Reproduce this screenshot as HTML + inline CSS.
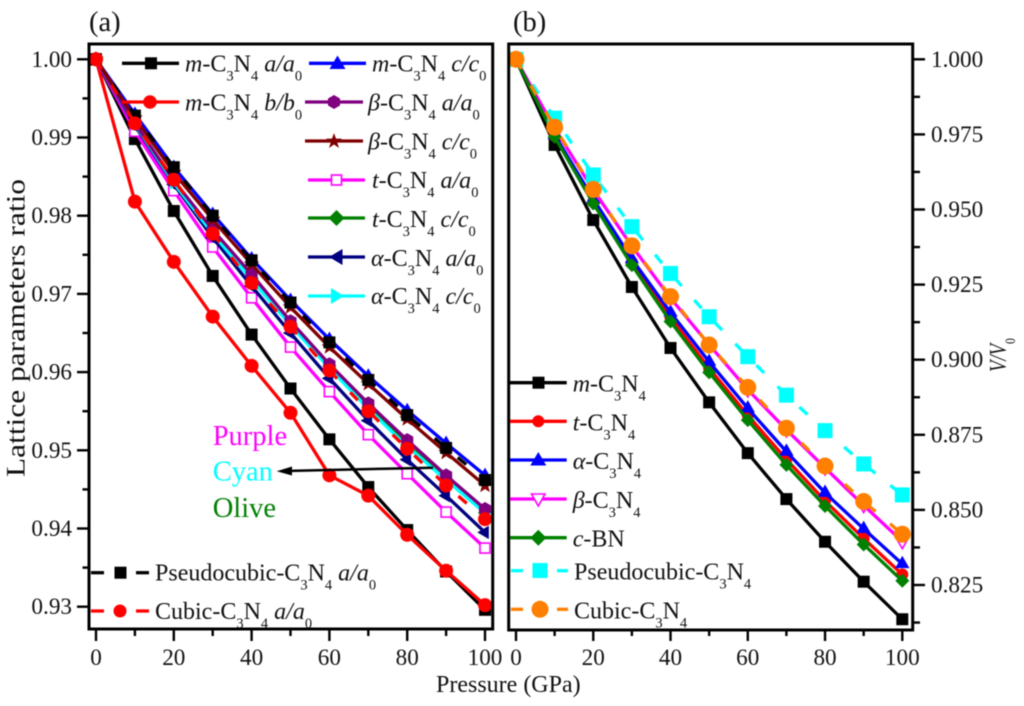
<!DOCTYPE html>
<html lang="en">
<head>
<meta charset="utf-8">
<title>Lattice parameter and volume ratios versus pressure</title>
<style>
html,body{margin:0;padding:0;background:#fff;}
body{width:1024px;height:706px;overflow:hidden;}
svg{display:block;filter:blur(0.5px);font-family:"Liberation Serif",serif;fill:#111;}
.lg{font-size:24px;}
.s{font-size:14.5px;baseline-shift:-9px;}
.i{font-style:italic;}
.t{font-size:23.2px;}
</style>
</head>
<body>
<svg id="chart" xmlns="http://www.w3.org/2000/svg" width="1024" height="706" viewBox="0 0 1024 706">
  <defs>
    <clipPath id="clipA"><rect x="89" y="44" width="403.7" height="585"/></clipPath>
    <clipPath id="clipB"><rect x="508.7" y="44" width="404" height="586"/></clipPath>
  </defs>
  <g id="marksA" clip-path="url(#clipA)"></g>
  <g id="marksB" clip-path="url(#clipB)"></g>
  <g id="axesA"></g>
  <g id="axesB"></g>

  <text x="89" y="31" font-size="28.5">(a)</text>
  <text x="513" y="31" font-size="28.5">(b)</text>
  <text x="436" y="692" font-size="24">Pressure (GPa)</text>
  <text transform="translate(24.5,477) rotate(-90)" font-size="26" textLength="298" lengthAdjust="spacingAndGlyphs">Lattice parameters ratio</text>
  <text transform="translate(1006,372) rotate(-90) scale(.78,1)" font-size="24" class="i">V/V<tspan class="s" style="font-style:normal">0</tspan></text>

  <g class="lg">
    <g>
      <line x1="122" x2="179" y1="63.3" y2="63.3" stroke="#000" stroke-width="3.3"/>
      <rect x="145" y="57.3" width="12" height="12" fill="#000"/>
      <text x="185" y="71.7"><tspan class="i">m</tspan>-C<tspan class="s">3</tspan>N<tspan class="s">4</tspan> <tspan class="i">a/a</tspan><tspan class="s">0</tspan></text>
    </g>
    <g>
      <line x1="122" x2="179" y1="102" y2="102" stroke="#f00" stroke-width="3.3"/>
      <circle cx="150" cy="102" r="6.8" fill="#f00"/>
      <text x="185" y="110.7"><tspan class="i">m</tspan>-C<tspan class="s">3</tspan>N<tspan class="s">4</tspan> <tspan class="i">b/b</tspan><tspan class="s">0</tspan></text>
    </g>
    <g>
      <line x1="309" x2="366" y1="63.3" y2="63.3" stroke="#00f" stroke-width="3.3"/>
      <polygon points="337.5,55.5 345.5,69 329.5,69" fill="#00f"/>
      <text x="372" y="71.7"><tspan class="i">m</tspan>-C<tspan class="s">3</tspan>N<tspan class="s">4</tspan> <tspan class="i">c/c</tspan><tspan class="s">0</tspan></text>
    </g>
    <g>
      <line x1="305" x2="363" y1="102" y2="102" stroke="#800080" stroke-width="3.3"/>
      <polygon points="334,95 340,98.5 340,105.5 334,109 328,105.5 328,98.5" fill="#800080"/>
      <text x="368" y="110.7"><tspan class="i">β</tspan>-C<tspan class="s">3</tspan>N<tspan class="s">4</tspan> <tspan class="i">a/a</tspan><tspan class="s">0</tspan></text>
    </g>
    <g>
      <line x1="305" x2="363" y1="141" y2="141" stroke="#800000" stroke-width="3.3"/>
      <polygon points="334,133 336,138.6 342,138.6 337.2,142.2 339,148 334,144.5 329,148 330.8,142.2 326,138.6 332,138.6" fill="#800000"/>
      <text x="368" y="149.7"><tspan class="i">β</tspan>-C<tspan class="s">3</tspan>N<tspan class="s">4</tspan> <tspan class="i">c/c</tspan><tspan class="s">0</tspan></text>
    </g>
    <g>
      <line x1="308" x2="365" y1="180" y2="180" stroke="#f0f" stroke-width="3.3"/>
      <rect x="331.5" y="175" width="10" height="10" fill="#fff" stroke="#f0f" stroke-width="1.6"/>
      <text x="372" y="188"><tspan class="i">t</tspan>-C<tspan class="s">3</tspan>N<tspan class="s">4</tspan> <tspan class="i">a/a</tspan><tspan class="s">0</tspan></text>
    </g>
    <g>
      <line x1="308" x2="365" y1="218" y2="218" stroke="#008000" stroke-width="3.3"/>
      <polygon points="336.5,210 344.5,218 336.5,226 328.5,218" fill="#008000"/>
      <text x="372" y="227"><tspan class="i">t</tspan>-C<tspan class="s">3</tspan>N<tspan class="s">4</tspan> <tspan class="i">c/c</tspan><tspan class="s">0</tspan></text>
    </g>
    <g>
      <line x1="308" x2="365" y1="257" y2="257" stroke="#000080" stroke-width="3.3"/>
      <polygon points="329,257 342.5,249 342.5,265" fill="#000080"/>
      <text x="371" y="266"><tspan class="i">α</tspan>-C<tspan class="s">3</tspan>N<tspan class="s">4</tspan> <tspan class="i">a/a</tspan><tspan class="s">0</tspan></text>
    </g>
    <g>
      <line x1="308" x2="365" y1="296" y2="296" stroke="#0ff" stroke-width="3.3"/>
      <polygon points="344,296 331,288 331,304" fill="#0ff"/>
      <text x="371" y="304"><tspan class="i">α</tspan>-C<tspan class="s">3</tspan>N<tspan class="s">4</tspan> <tspan class="i">c/c</tspan><tspan class="s">0</tspan></text>
    </g>
    <g>
      <line x1="91" x2="104" y1="572.7" y2="572.7" stroke="#000" stroke-width="3.3"/>
      <line x1="136" x2="149" y1="572.7" y2="572.7" stroke="#000" stroke-width="3.3"/>
      <rect x="114.5" y="566.7" width="12" height="12" fill="#000"/>
      <text x="155" y="580.7">Pseudocubic-C<tspan class="s">3</tspan>N<tspan class="s">4</tspan> <tspan class="i">a/a</tspan><tspan class="s">0</tspan></text>
    </g>
    <g>
      <line x1="91" x2="104" y1="611" y2="611" stroke="#f00" stroke-width="3.3"/>
      <line x1="136" x2="149" y1="611" y2="611" stroke="#f00" stroke-width="3.3"/>
      <circle cx="120" cy="611" r="6.5" fill="#f00"/>
      <text x="155" y="619">Cubic-C<tspan class="s">3</tspan>N<tspan class="s">4</tspan> <tspan class="i">a/a</tspan><tspan class="s">0</tspan></text>
    </g>
  </g>

  <g class="lg">
    <g>
      <line x1="510" x2="566.7" y1="382.7" y2="382.7" stroke="#000" stroke-width="3.3"/>
      <rect x="532.5" y="376.7" width="12" height="12" fill="#000"/>
      <text x="572.7" y="391.7"><tspan class="i">m</tspan>-C<tspan class="s">3</tspan>N<tspan class="s">4</tspan></text>
    </g>
    <g>
      <line x1="510" x2="566.7" y1="421.3" y2="421.3" stroke="#f00" stroke-width="3.3"/>
      <circle cx="538.3" cy="421.3" r="6" fill="#f00"/>
      <text x="572.7" y="430.3"><tspan class="i">t</tspan>-C<tspan class="s">3</tspan>N<tspan class="s">4</tspan></text>
    </g>
    <g>
      <line x1="510" x2="566.7" y1="460" y2="460" stroke="#00f" stroke-width="3.3"/>
      <polygon points="538.3,452 546.3,465.5 530.3,465.5" fill="#00f"/>
      <text x="572.7" y="469"><tspan class="i">α</tspan>-C<tspan class="s">3</tspan>N<tspan class="s">4</tspan></text>
    </g>
    <g>
      <line x1="510" x2="566.7" y1="499" y2="499" stroke="#f0f" stroke-width="3.3"/>
      <polygon points="531.5,494 545,494 538.3,506" fill="#fff" stroke="#f0f" stroke-width="1.6"/>
      <text x="572.7" y="508"><tspan class="i">β</tspan>-C<tspan class="s">3</tspan>N<tspan class="s">4</tspan></text>
    </g>
    <g>
      <line x1="510" x2="566.7" y1="537.7" y2="537.7" stroke="#008000" stroke-width="3.3"/>
      <polygon points="538.3,529.7 546.3,537.7 538.3,545.7 530.3,537.7" fill="#008000"/>
      <text x="572.7" y="546.7"><tspan class="i">c</tspan>-BN</text>
    </g>
    <g>
      <line x1="511" x2="523" y1="570.7" y2="570.7" stroke="#0ff" stroke-width="3.3"/>
      <line x1="557" x2="568" y1="570.7" y2="570.7" stroke="#0ff" stroke-width="3.3"/>
      <rect x="532.5" y="563" width="15" height="15" fill="#0ff"/>
      <text x="574" y="579.7">Pseudocubic-C<tspan class="s">3</tspan>N<tspan class="s">4</tspan></text>
    </g>
    <g>
      <line x1="511" x2="523" y1="609.3" y2="609.3" stroke="#ff8000" stroke-width="3.3"/>
      <line x1="557" x2="568" y1="609.3" y2="609.3" stroke="#ff8000" stroke-width="3.3"/>
      <circle cx="540" cy="609.3" r="8.5" fill="#ff8000"/>
      <text x="574" y="618.3">Cubic-C<tspan class="s">3</tspan>N<tspan class="s">4</tspan></text>
    </g>
  </g>

  <g font-size="28.5">
    <text x="212.7" y="445" style="fill:#f0f">Purple</text>
    <text x="212.7" y="480.7" style="fill:#0ff">Cyan</text>
    <text x="212.7" y="517" style="fill:#008000">Olive</text>
    <line x1="433" y1="467.7" x2="285" y2="471" stroke="#000" stroke-width="2.5"/>
    <polygon points="276.7,471.3 292,466.5 292,475.5" fill="#000"/>
  </g>
</svg>
<script>
const pressures = [0,10,20,30,40,50,60,70,80,90,100];
const xTickLabels = [0,20,40,60,80,100];
const xMinorTicks = [10,30,50,70,90];
const yTicksA = [1.00,0.99,0.98,0.97,0.96,0.95,0.94,0.93];
const yMinorA = [0.995,0.985,0.975,0.965,0.955,0.945,0.935];
const yTicksB = [1.000,0.975,0.950,0.925,0.900,0.875,0.850,0.825];
const yMinorB = [0.9875,0.9625,0.9375,0.9125,0.8875,0.8625,0.8375,0.8125];

const mA = [1,0.9898,0.9806,0.9723,0.9648,0.9579,0.9514,0.9453,0.9398,0.9345,0.9296];
const mB = [1,0.9818,0.9741,0.9671,0.9608,0.9548,0.9468,0.9442,0.9392,0.9346,0.9302];
const mC = [1,0.9930,0.9862,0.9802,0.9745,0.9692,0.9642,0.9595,0.9551,0.9509,0.9468];
const tA = [1,0.9908,0.9832,0.9760,0.9695,0.9632,0.9575,0.9520,0.9470,0.9421,0.9375];
const tC = [1,0.9918,0.9845,0.9780,0.9720,0.9662,0.9608,0.9555,0.9507,0.9463,0.9420];
const alphaA = [1,0.9915,0.9840,0.9772,0.9710,0.9650,0.9592,0.9538,0.9488,0.9442,0.9395];
const alphaC = [1,0.9917,0.9842,0.9777,0.9718,0.9660,0.9605,0.9553,0.9505,0.9462,0.9420];
const betaA = [1,0.9918,0.9845,0.9782,0.9725,0.9665,0.9610,0.9560,0.9513,0.9468,0.9425];
const betaC = [1,0.9925,0.9855,0.9795,0.9738,0.9683,0.9632,0.9585,0.9540,0.9497,0.9455];
const pseudoA = [1,0.9928,0.9862,0.9800,0.9743,0.9689,0.9638,0.9590,0.9545,0.9503,0.9462];
const cubicA = [1,0.9918,0.9846,0.9777,0.9714,0.9658,0.9602,0.9550,0.9502,0.9455,0.9412];

const volM = [1,0.9715,0.9465,0.9242,0.9039,0.8858,0.8689,0.8536,0.8394,0.8261,0.8136];
const volT = [1,0.9745,0.9525,0.9325,0.9140,0.8972,0.8815,0.8668,0.8530,0.8405,0.8285];
const volAlpha = [1,0.9748,0.9535,0.9335,0.9157,0.8993,0.8838,0.8694,0.8557,0.8437,0.8320];
const volBeta = [1,0.9770,0.9565,0.9378,0.9205,0.9050,0.8900,0.8767,0.8640,0.8515,0.8395];
const volCbn = [1,0.9742,0.9520,0.9315,0.9127,0.8958,0.8799,0.8650,0.8513,0.8385,0.8264];
const volPseudo = [1,0.9804,0.9615,0.9443,0.9287,0.9143,0.9010,0.8882,0.8764,0.8653,0.8550];
const volCubic = [1,0.9774,0.9567,0.9379,0.9210,0.9049,0.8908,0.8772,0.8646,0.8528,0.8419];

const NS = 'http://www.w3.org/2000/svg';

function xA(p){ return 96 + p * 3.89; }
function yA(v){ return 59.3 + (1 - v) * 7820; }
function xB(p){ return 516 + p * 3.863; }
function yB(v){ return 59.3 + (1 - v) * 3004; }

function node(tag, attrs){
  const el = document.createElementNS(NS, tag);
  for (const k in attrs) el.setAttribute(k, attrs[k]);
  return el;
}

function polyPoints(cx, cy, r, n, start){
  const pts = [];
  for (let i = 0; i < n; i++){
    const a = start + i * 2 * Math.PI / n;
    pts.push((cx + r * Math.cos(a)).toFixed(2) + ',' + (cy + r * Math.sin(a)).toFixed(2));
  }
  return pts.join(' ');
}

function starPoints(cx, cy, r){
  const pts = [];
  for (let i = 0; i < 10; i++){
    const a = -Math.PI / 2 + i * Math.PI / 5;
    const q = i % 2 ? r * 0.42 : r;
    pts.push((cx + q * Math.cos(a)).toFixed(2) + ',' + (cy + q * Math.sin(a)).toFixed(2));
  }
  return pts.join(' ');
}

function marker(kind, x, y, color, size){
  const h = size / 2;
  if (kind === 'square') return node('rect', {x:x-h, y:y-h, width:size, height:size, fill:color});
  if (kind === 'open-square') return node('rect', {x:x-h, y:y-h, width:size, height:size, fill:'#fff', stroke:color, 'stroke-width':1.6});
  if (kind === 'circle') return node('circle', {cx:x, cy:y, r:h, fill:color});
  if (kind === 'tri-up') return node('polygon', {points:polyPoints(x, y, h*1.1, 3, -Math.PI/2), fill:color});
  if (kind === 'tri-down-open') return node('polygon', {points:polyPoints(x, y, h*1.1, 3, Math.PI/2), fill:'#fff', stroke:color, 'stroke-width':1.6});
  if (kind === 'tri-left') return node('polygon', {points:polyPoints(x, y, h*1.1, 3, Math.PI), fill:color});
  if (kind === 'tri-right') return node('polygon', {points:polyPoints(x, y, h*1.1, 3, 0), fill:color});
  if (kind === 'hexagon') return node('polygon', {points:polyPoints(x, y, h, 6, -Math.PI/2), fill:color});
  if (kind === 'diamond') return node('polygon', {points:polyPoints(x, y, h, 4, -Math.PI/2), fill:color});
  return node('polygon', {points:starPoints(x, y, h*1.1), fill:color});
}

function drawSeries(parent, name, values, color, kind, size, dashed, xf, yf){
  const g = node('g', {});
  
  
  const line = node('polyline', {
    points: values.map(function(v, i){ return xf(pressures[i]).toFixed(2) + ',' + yf(v).toFixed(2); }).join(' '),
    fill: 'none', stroke: color, 'stroke-width': 3.3, 'stroke-linejoin': 'round'
  });
  if (dashed) line.setAttribute('stroke-dasharray', '11 19');
  
  
  g.appendChild(line);
  values.forEach(function(v, i){
    const m = marker(kind, xf(pressures[i]), yf(v), color, size);
    
    
    g.appendChild(m);
  });
  parent.appendChild(g);
}

const marksA = document.getElementById('marksA');
drawSeries(marksA, 'm-a', mA, '#000', 'square', 12, false, xA, yA);
drawSeries(marksA, 'm-b', mB, '#f00', 'circle', 14, false, xA, yA);
drawSeries(marksA, 'm-c', mC, '#00f', 'tri-up', 14, false, xA, yA);
drawSeries(marksA, 't-a', tA, '#f0f', 'open-square', 10, false, xA, yA);
drawSeries(marksA, 't-c', tC, '#008000', 'diamond', 14, false, xA, yA);
drawSeries(marksA, 'alpha-a', alphaA, '#000080', 'tri-left', 14, false, xA, yA);
drawSeries(marksA, 'alpha-c', alphaC, '#0ff', 'tri-right', 14, false, xA, yA);
drawSeries(marksA, 'beta-a', betaA, '#800080', 'hexagon', 14, false, xA, yA);
drawSeries(marksA, 'beta-c', betaC, '#800000', 'star', 15, false, xA, yA);
drawSeries(marksA, 'pseudocubic-a', pseudoA, '#000', 'square', 12, true, xA, yA);
drawSeries(marksA, 'cubic-a', cubicA, '#f00', 'circle', 14, true, xA, yA);

const marksB = document.getElementById('marksB');
drawSeries(marksB, 'vol-m', volM, '#000', 'square', 12, false, xB, yB);
drawSeries(marksB, 'vol-t', volT, '#f00', 'circle', 12, false, xB, yB);
drawSeries(marksB, 'vol-alpha', volAlpha, '#00f', 'tri-up', 15, false, xB, yB);
drawSeries(marksB, 'vol-beta', volBeta, '#f0f', 'tri-down-open', 13, false, xB, yB);
drawSeries(marksB, 'vol-cbn', volCbn, '#008000', 'diamond', 14, false, xB, yB);
drawSeries(marksB, 'vol-pseudocubic', volPseudo, '#0ff', 'square', 15, true, xB, yB);
drawSeries(marksB, 'vol-cubic', volCubic, '#ff8000', 'circle', 17, true, xB, yB);

function tick(parent, x1, y1, x2, y2, name){
  const t = node('line', {x1:x1, y1:y1, x2:x2, y2:y2, stroke:'#000', 'stroke-width':2.4});
  
  
  parent.appendChild(t);
}

function label(parent, x, y, anchor, str, name){
  const t = node('text', {x:x, y:y, 'text-anchor':anchor, 'class':'t'});
  t.textContent = str;
  
  
  parent.appendChild(t);
}

function frame(parent, x, y, w, h, name){
  const r = node('rect', {x:x, y:y, width:w, height:h, fill:'none', stroke:'#000', 'stroke-width':3});
  
  
  parent.appendChild(r);
}

const axesA = document.getElementById('axesA');
frame(axesA, 89, 44, 403.7, 585, 'panel-a-frame');
xTickLabels.forEach(function(p){
  tick(axesA, xA(p), 629, xA(p), 641, 'x-tick');
  label(axesA, xA(p), 665, 'middle', String(p), 'x-tick-label');
});
xMinorTicks.forEach(function(p){
  tick(axesA, xA(p), 629, xA(p), 636, 'x-minor-tick');
});
yTicksA.forEach(function(v){
  tick(axesA, 77, yA(v), 89, yA(v), 'y-tick');
  label(axesA, 72, yA(v) + 7.5, 'end', v.toFixed(2), 'y-tick-label');
});
yMinorA.forEach(function(v){
  tick(axesA, 82.5, yA(v), 89, yA(v), 'y-minor-tick');
});

const axesB = document.getElementById('axesB');
frame(axesB, 508.7, 44, 404, 586, 'panel-b-frame');
xTickLabels.forEach(function(p){
  tick(axesB, xB(p), 630, xB(p), 641, 'x-tick');
  label(axesB, xB(p), 665, 'middle', String(p), 'x-tick-label');
});
xMinorTicks.forEach(function(p){
  tick(axesB, xB(p), 630, xB(p), 636, 'x-minor-tick');
});
yTicksB.forEach(function(v){
  tick(axesB, 912.7, yB(v), 925, yB(v), 'y-tick');
  label(axesB, 931, yB(v) + 7.5, 'start', v.toFixed(3), 'y-tick-label');
});
yMinorB.forEach(function(v){
  tick(axesB, 912.7, yB(v), 920, yB(v), 'y-minor-tick');
});
</script>
</body>
</html>
